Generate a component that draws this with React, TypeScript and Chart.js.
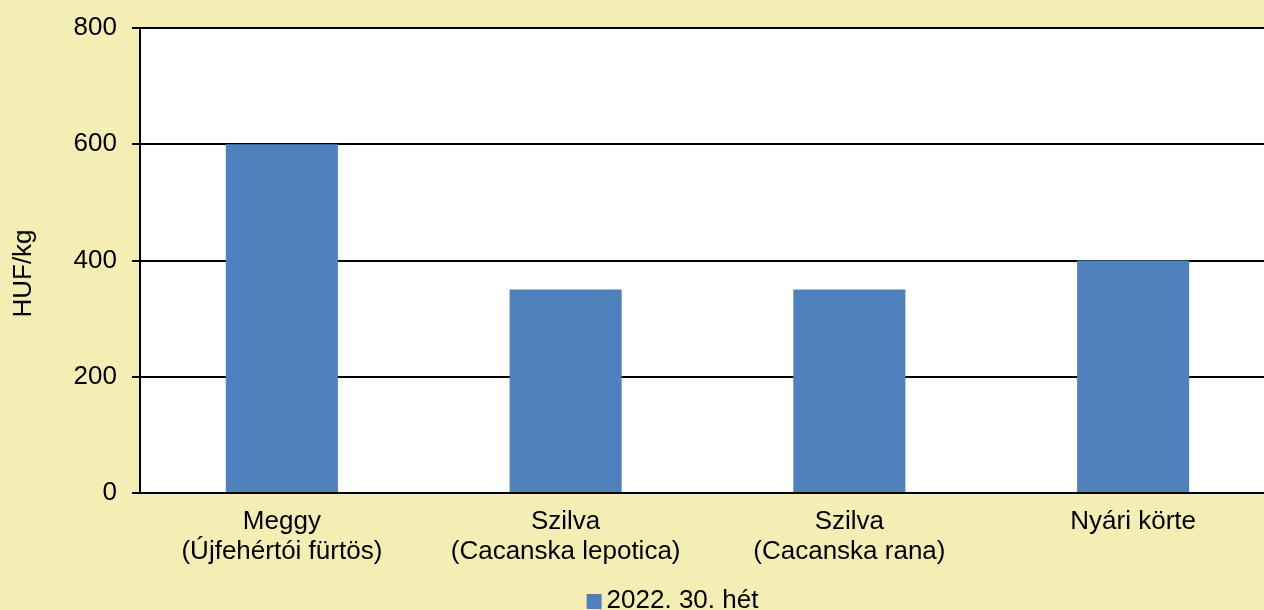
import React, { useEffect, useRef } from "react";
import { Chart, registerables } from "chart.js";

Chart.register(...registerables);

const categories: string[][] = [
  ["Meggy", "(Újfehértói fürtös)"],
  ["Szilva", "(Cacanska lepotica)"],
  ["Szilva", "(Cacanska rana)"],
  ["Nyári körte"],
];
const seriesLabel = "2022. 30. hét";
const values: number[] = [600, 350, 350, 400];
const yMin = 0;
const yMax = 800;
const yStep = 200;
const yTitle = "HUF/kg";

const BG = "#F4EEB4";
const BAR = "#4F81BD";
const FONT = "'Liberation Sans', Arial, sans-serif";

const bgPlugin = {
  id: "bgPlugin",
  beforeDraw(chart: any) {
    const { ctx, chartArea } = chart;
    ctx.save();
    ctx.fillStyle = BG;
    ctx.fillRect(0, 0, chart.width, chart.height);
    ctx.fillStyle = "#FFFFFF";
    ctx.fillRect(chartArea.left, chartArea.top, chartArea.right - chartArea.left, chartArea.bottom - chartArea.top);
    ctx.restore();
  },
  afterDraw(chart: any) {
    const { ctx, chartArea } = chart;
    ctx.save();
    // y axis title
    ctx.fillStyle = "#000";
    ctx.font = `26px ${FONT}`;
    ctx.textAlign = "center";
    ctx.textBaseline = "middle";
    ctx.translate(24, (chartArea.top + chartArea.bottom) / 2 + 13);
    ctx.rotate(-Math.PI / 2);
    ctx.fillText(yTitle, 0, 0);
    ctx.restore();

    // legend
    ctx.save();
    ctx.font = `26px ${FONT}`;
    const w = ctx.measureText(seriesLabel).width;
    const box = 15;
    const gap = 5;
    const total = box + gap + w;
    const cx = (chartArea.left + chartArea.right) / 2 - 35;
    const x0 = cx - total / 2;
    const baseline = chart.height - 2;
    ctx.fillStyle = BAR;
    ctx.fillRect(x0, baseline - 14, box, box);
    ctx.fillStyle = "#000";
    ctx.textAlign = "left";
    ctx.textBaseline = "alphabetic";
    ctx.fillText(seriesLabel, x0 + box + gap, baseline);
    ctx.restore();
  },
};

export default function App() {
  const ref = useRef<HTMLCanvasElement | null>(null);
  useEffect(() => {
    if (!ref.current) return;
    const chart = new Chart(ref.current, {
      type: "bar",
      data: {
        labels: categories,
        datasets: [
          {
            label: seriesLabel,
            data: values,
            backgroundColor: BAR,
            borderWidth: 0,
            barPercentage: 0.395,
            categoryPercentage: 1,
          },
        ],
      },
      options: {
        animation: false,
        responsive: false,
        devicePixelRatio: 1,
        layout: { padding: { top: 28, right: 1, left: 0, bottom: 0 } },
        plugins: {
          legend: { display: false },
          tooltip: { enabled: false },
          title: { display: false },
        },
        scales: {
          x: {
            grid: { display: false },
            border: { display: true, color: "#000", width: 2 },
            ticks: {
              color: "#000",
              font: { family: FONT, size: 26, lineHeight: 1.15 },
              padding: 6,
              maxRotation: 0,
              autoSkip: false,
            },
            afterFit(scale: any) {
              scale.height = 117;
              scale.paddingLeft = 0;
              scale.paddingRight = 0;
            },
          },
          y: {
            min: yMin,
            max: yMax,
            grid: { color: "#000", lineWidth: 2, drawTicks: true, tickLength: 8 },
            border: { display: true, color: "#000", width: 2 },
            ticks: {
              stepSize: yStep,
              color: "#000",
              font: { family: FONT, size: 26 },
              padding: 15,
            },
            afterFit(scale: any) {
              scale.width = 140;
              scale.paddingTop = 0;
              scale.paddingBottom = 0;
            },
          },
        },
      },
      plugins: [bgPlugin],
    });
    return () => chart.destroy();
  }, []);
  return (
    <div
      style={{
        position: "fixed",
        left: 0,
        top: 0,
        width: 1264,
        height: 610,
        overflow: "hidden",
        background: BG,
      }}
    >
      <canvas ref={ref} width={1276} height={610} style={{ width: 1276, height: 610, display: "block" }} />
    </div>
  );
}
